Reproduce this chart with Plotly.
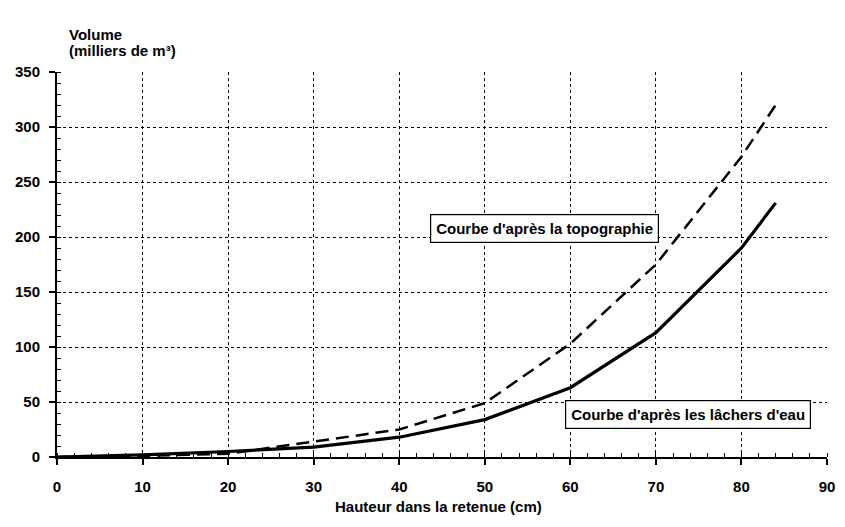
import plotly.graph_objects as go

hauteur = [0, 10, 20, 30, 40, 50, 60, 70, 80, 84]
vol_lachers = [0, 2, 5, 9, 18, 34, 63, 113, 190, 231]
vol_topo = [0, 1, 3, 14, 25, 49, 103, 175, 273, 320]

x_ticks = [0, 10, 20, 30, 40, 50, 60, 70, 80, 90]
y_ticks = [0, 50, 100, 150, 200, 250, 300, 350]

FONT = "Arial, Liberation Sans, sans-serif"

fig = go.Figure()
fig.add_trace(go.Scatter(x=hauteur, y=vol_topo, mode="lines",
                         line=dict(color="black", width=2.5, dash="13px,7px"),
                         name="Courbe d'après la topographie"))
fig.add_trace(go.Scatter(x=hauteur, y=vol_lachers, mode="lines",
                         line=dict(color="black", width=3.2),
                         name="Courbe d'après les lâchers d'eau"))

axis_common = dict(
    showline=True, linecolor="black", linewidth=2,
    showgrid=True, gridcolor="black", griddash="dot", gridwidth=1,
    ticks="outside", ticklen=6, tickwidth=1.5, tickcolor="black",
    tickfont=dict(family=FONT, size=15, color="black", weight="bold"),
    zeroline=False,
)

fig.update_xaxes(range=[0, 90], tickvals=x_ticks, ticktext=[str(v) for v in x_ticks],
                 minor=dict(dtick=2, tick0=0, ticks="inside", ticklen=4, tickcolor="black",
                            tickwidth=1, showgrid=False),
                 ticklabelstandoff=9, **axis_common)
fig.update_yaxes(range=[0, 350], tickvals=y_ticks, ticktext=[str(v) for v in y_ticks],
                 minor=dict(dtick=10, tick0=0, ticks="inside", ticklen=4, tickcolor="black",
                            tickwidth=1, showgrid=False),
                 ticklabelstandoff=6, **axis_common)

ann_font = dict(family=FONT, size=15, color="black", weight="bold")
fig.add_annotation(x=57.0, y=208, xref="x", yref="y", text="Courbe d'après la topographie",
                   showarrow=False, font=ann_font, bgcolor="white",
                   bordercolor="black", borderwidth=1.2, borderpad=5)
fig.add_annotation(x=73.7, y=39, xref="x", yref="y", text="Courbe d'après les lâchers d'eau",
                   showarrow=False, font=ann_font, bgcolor="white",
                   bordercolor="black", borderwidth=1.2, borderpad=5)

# Y axis title (two lines, top-left), given in pixels then converted
fig.add_annotation(x=67, y=24, xref="paper", yref="paper", text="Volume",
                   showarrow=False, font=ann_font)
fig.add_annotation(x=67, y=40, xref="paper", yref="paper", text="(milliers de m³)",
                   showarrow=False, font=ann_font)
# X axis title
fig.add_annotation(x=442, y=517, xref="paper", yref="paper", text="Hauteur dans la retenue (cm)",
                   showarrow=False, font=ann_font)

W, H = 845, 527
L, R, T, B = 57, 10, 72, 70
pw, ph = W - L - R, H - T - B
for a in fig.layout.annotations:
    if a.xref == "paper":
        a.x = (a.x - L) / pw
        a.y = (H - B - a.y) / ph

fig.update_layout(
    width=W, height=H,
    margin=dict(l=L, r=R, t=T, b=B),
    paper_bgcolor="white", plot_bgcolor="white",
    showlegend=False,
)

fig.write_html("out.html")
